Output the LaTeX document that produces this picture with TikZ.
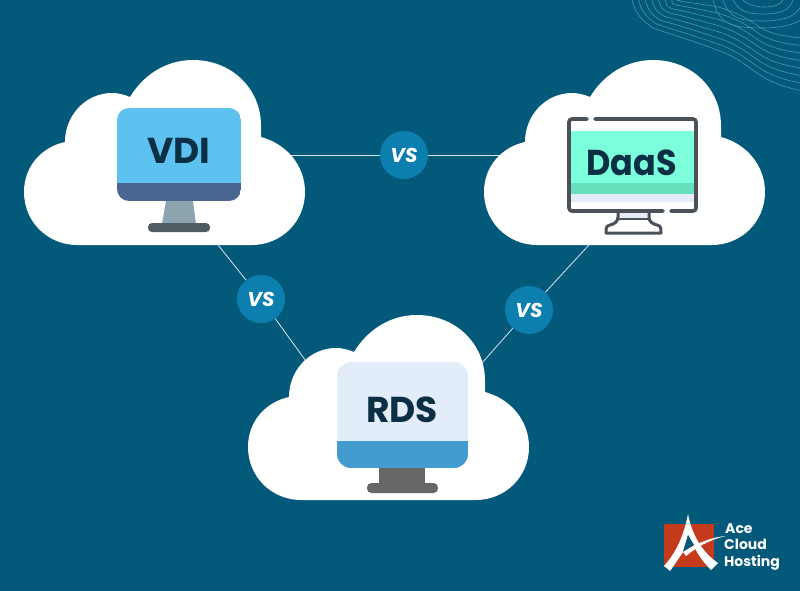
\documentclass[tikz,border=0pt]{standalone}
\usepackage{fontspec}
\newfontfamily\popf{Poppins}
\definecolor{bgc}{HTML}{03597A}
\definecolor{vsc}{HTML}{0D7FAE}
\definecolor{ink}{HTML}{0B3045}
\definecolor{linec}{HTML}{D5E6EC}
\definecolor{wavec}{HTML}{4F93AD}
\definecolor{gry}{HTML}{4A5158}
\tikzset{
  cloudshape/.pic={
    \fill[white] (41,82) .. controls (41,55) and (62,33) .. (88,33)
      .. controls (94,33) and (100,34.5) .. (106,37)
      .. controls (120,14) and (143,0) .. (169,0)
      .. controls (207,0) and (237,28) .. (237,66) -- (237,77)
      .. controls (263,84) and (281,106) .. (281,132)
      .. controls (281,162) and (257,185) .. (228,185) -- (53,185)
      .. controls (24,185) and (0,162) .. (0,132)
      .. controls (0,106) and (18,87) .. (41,82) -- cycle;
  },
  conn/.style={draw=linec,line width=0.8pt},
  vsnode/.style={circle,fill=vsc,minimum size=48pt,inner sep=0pt,text=white,font=\popf\bfseries\itshape\fontsize{20}{22}\selectfont},
  title/.style={text=ink,inner sep=0pt,font=\popf\bfseries\fontsize{36}{40}\selectfont},
  logotext/.style={text=white,inner sep=0pt,anchor=base west,font=\popf\bfseries\fontsize{14}{15}\selectfont},
  wave/.style={draw=wavec,line width=0.6pt},
}
\begin{document}
\begin{tikzpicture}[x=1pt,y=-1pt]
\fill[bgc] (0,0) rectangle (800,591);
\useasboundingbox (0,0) rectangle (800,591);

% contour lines
\begin{scope}
\clip (0,0) rectangle (800,591);
\foreach \i in {0,...,7}{
  \pgfmathsetmacro{\ax}{632+6.6*\i}
  \pgfmathsetmacro{\bx}{653+4*\i}
  \pgfmathsetmacro{\by}{28-3.8*\i}
  \pgfmathsetmacro{\cy}{50-6.2*\i}
  \pgfmathsetmacro{\dy}{73-6.8*\i}
  \pgfmathsetmacro{\ey}{91-7.5*\i}
  \pgfmathsetmacro{\t}{7-0.6*\i}
  \draw[wave] (\ax,0) .. controls ({\ax+3},{14-1.9*\i}) and ({\bx-10},{\by-\t}) .. (\bx,\by)
    .. controls ({\bx+20},{\by+\t}) and (699,{\cy-\t}) .. (717,\cy)
    .. controls (733,{\cy+5}) and (743,{\dy-10}) .. (757,\dy)
    .. controls (771,{\dy+10}) and (789,{\ey-2}) .. (805,\ey);
}
\foreach \xl/\b/\xr in {743/7/783,733/14/793,723/21/803,713/28/813}{
  \draw[wave] (\xl,0) .. controls ({\xl+6},{\b*0.8}) and ({\xl+14},\b) .. (763,\b)
    .. controls ({763+0.6*(\xr-763)},\b) and ({\xr-3},{\b*0.7}) .. (\xr,0);
}
\end{scope}

% connectors
\coordinate (vdiE) at (290,155);
\coordinate (daasW) at (500,155);
\coordinate (vdiS) at (214.2,240);
\coordinate (rdsW) at (309,365.3);
\coordinate (daasS) at (593.5,240);
\coordinate (rdsE) at (477.5,368);
\node[vsnode] (vsA) at (404,155) {VS};
\node[vsnode] (vsB) at (261,299) {VS};
\node[vsnode] (vsC) at (529,310) {VS};
\draw[conn] (vdiE) -- (vsA) -- (daasW);
\draw[conn] (vdiS) -- (vsB) -- (rdsW);
\draw[conn] (daasS) -- (vsC) -- (rdsE);

% clouds
\pic at (24,60) {cloudshape};
\pic at (484,60) {cloudshape};
\pic at (248,315) {cloudshape};

% VDI monitor
\begin{scope}
\clip[rounded corners=12pt] (117,108) rectangle (241,201);
\fill[color={rgb,255:red,94;green,194;blue,240}] (117,108) rectangle (241,183);
\fill[color={rgb,255:red,74;green,102;blue,144}] (117,183) rectangle (241,201);
\end{scope}
\fill[color={rgb,255:red,139;green,164;blue,175}] (166,201) -- (193,201) -- (196,224) -- (162,224) -- cycle;
\fill[color={rgb,255:red,79;green,93;blue,99},rounded corners=4pt] (148,223) rectangle (210,232);
\node[title] (vdi) at (179,150.5) {VDI};

% DaaS monitor
\fill[color={rgb,255:red,124;green,255;blue,219}] (571,131) rectangle (694,183);
\fill[color={rgb,255:red,101;green,224;blue,189}] (571,183) rectangle (694,194);
\fill[color={rgb,255:red,229;green,236;blue,248}] (571,194) rectangle (694,202);
\fill[color={rgb,255:red,229;green,236;blue,248}] (618,213) rectangle (649,218);
\draw[gry,line width=3.6pt,line cap=round,rounded corners=3pt] (587,119) -- (569,119) -- (569,211) -- (663,211);
\draw[gry,line width=3.6pt,line cap=round,rounded corners=3pt] (671,211) -- (696,211) -- (696,119) -- (595,119);
\draw[gry,line width=3pt,line join=round] (618,212) -- (618,217) .. controls (618,222) and (614,224) .. (610,225)
  .. controls (606,226) and (606,228) .. (606,233) -- (661,233)
  .. controls (661,228) and (661,226) .. (657,225) .. controls (653,224) and (649,222) .. (649,217) -- (649,212);
\draw[gry,line width=2.6pt] (618,219) -- (649,219);
\node[title,xscale=0.93] (daas) at (631.5,162.5) {DaaS};

% RDS monitor
\begin{scope}
\clip[rounded corners=14pt] (337,362) rectangle (468,468);
\fill[color={rgb,255:red,227;green,236;blue,249}] (337,362) rectangle (468,441);
\fill[color={rgb,255:red,67;green,156;blue,208}] (337,441) rectangle (468,468);
\end{scope}
\fill[color={rgb,255:red,102;green,102;blue,102}] (379,468) rectangle (425,484);
\fill[color={rgb,255:red,102;green,102;blue,102},rounded corners=4.5pt] (367,483) rectangle (438,493);
\node[title] (rds) at (402,410) {RDS};

% logo
\fill[color={rgb,255:red,196;green,58;blue,28}] (664,524) rectangle (714,567);
\fill[white] (688,514) .. controls (692,535) and (702,552) .. (718,563) -- (711,570)
  .. controls (703,562) and (696,552) .. (693,544)
  -- (688,535) .. controls (686,542) and (684,548) .. (683,552)
  .. controls (679,558) and (675,564) .. (670,571) -- (664,566)
  .. controls (676,553) and (684,535) .. (688,514) -- cycle;
\fill[bgc] (688,535) -- (683,552) -- (694,545) -- cycle;
\fill[white] (683,552) .. controls (697,543) and (712,537) .. (726,536)
  .. controls (712,539) and (698,546) .. (686,556) -- cycle;
\node[logotext] (ace) at (725,533) {Ace};
\node[logotext] (cloud) at (724,549.5) {Cloud};
\node[logotext] (hosting) at (724,566) {Hosting};
\end{tikzpicture}
\end{document}
